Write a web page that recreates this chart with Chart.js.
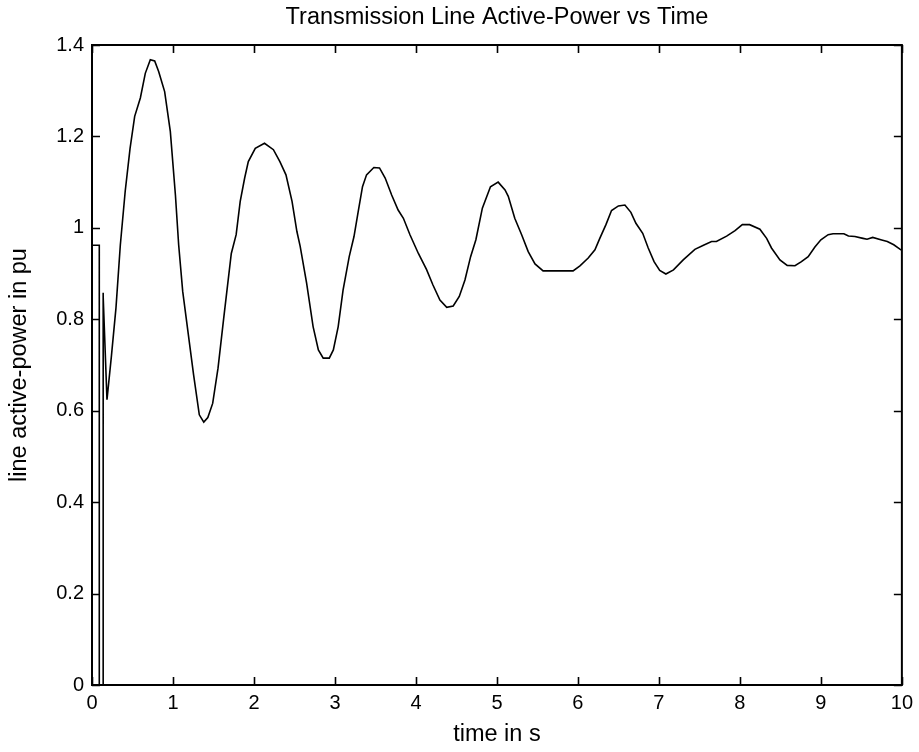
<!DOCTYPE html>
<html>
<head>
<meta charset="utf-8">
<script src="https://cdn.jsdelivr.net/npm/chart.js@4/dist/chart.umd.min.js"></script>
<style>
  html, body { margin: 0; padding: 0; background: #ffffff; }
  #wrap { width: 919px; height: 752px; }
</style>
</head>
<body>
<div id="wrap"><canvas id="c" width="919" height="752"></canvas></div>
<script>
// ---- data ----
const chartTitle = 'Transmission Line Active-Power vs Time';
const xTitle = 'time in s';
const yTitle = 'line active-power in pu';

const xTickLabels = ['0','1','2','3','4','5','6','7','8','9','10'];
const yTickLabels = ['0','0.2','0.4','0.6','0.8','1','1.2','1.4'];

const timeS = [
  0, 0.09, 0.09, 0.136, 0.136, 0.14, 0.185, 0.24, 0.296, 0.35, 0.41, 0.47, 0.527, 0.597, 0.658,
  0.72, 0.774, 0.823, 0.897, 0.967, 1.03, 1.07, 1.12, 1.19, 1.255, 1.325, 1.38, 1.43, 1.49,
  1.556, 1.626, 1.72, 1.78, 1.83, 1.885, 1.93, 2.016, 2.13, 2.24, 2.32, 2.395, 2.47, 2.53,
  2.57, 2.65, 2.73, 2.795, 2.855, 2.93, 2.98, 3.04, 3.1, 3.176, 3.235, 3.29, 3.34, 3.39,
  3.48, 3.55, 3.62, 3.7, 3.78, 3.845, 3.926, 4.03, 4.13, 4.21, 4.296, 4.38, 4.46, 4.535,
  4.605, 4.675, 4.74, 4.82, 4.92, 5.015, 5.1, 5.14, 5.22, 5.305, 5.386, 5.47, 5.57, 5.94,
  6.025, 6.127, 6.21, 6.27, 6.346, 6.415, 6.5, 6.58, 6.654, 6.716, 6.8, 6.868, 6.94, 7.01,
  7.086, 7.18, 7.3, 7.444, 7.55, 7.65, 7.71, 7.836, 7.94, 8.03, 8.12, 8.247, 8.33, 8.39,
  8.494, 8.584, 8.68, 8.76, 8.843, 8.926, 9.0, 9.09, 9.15, 9.284, 9.34, 9.42, 9.52, 9.57,
  9.64, 9.74, 9.82, 9.9, 9.98, 10
];
const powerPu = [
  0.962, 0.962, 0, 0, 0.858, 0.85, 0.624, 0.72, 0.825, 0.963, 1.08, 1.174, 1.244, 1.284, 1.338,
  1.368, 1.365, 1.342, 1.298, 1.211, 1.072, 0.963, 0.861, 0.766, 0.678, 0.591, 0.575, 0.585, 0.616,
  0.693, 0.802, 0.944, 0.985, 1.058, 1.109, 1.145, 1.174, 1.185, 1.171, 1.145, 1.116, 1.058, 0.992,
  0.96, 0.879, 0.784, 0.733, 0.715, 0.715, 0.733, 0.784, 0.864, 0.937, 0.981, 1.039, 1.09, 1.116,
  1.132, 1.131, 1.109, 1.072, 1.039, 1.021, 0.985, 0.944, 0.909, 0.875, 0.842, 0.826, 0.829, 0.85,
  0.886, 0.937, 0.974, 1.043, 1.09, 1.1, 1.083, 1.069, 1.021, 0.985, 0.948, 0.921, 0.906, 0.906,
  0.917, 0.934, 0.952, 0.977, 1.007, 1.038, 1.048, 1.05, 1.034, 1.01, 0.988, 0.956, 0.926, 0.907,
  0.899, 0.908, 0.93, 0.953, 0.962, 0.97, 0.97, 0.982, 0.994, 1.007, 1.007, 0.997, 0.977, 0.956,
  0.93, 0.918, 0.917, 0.926, 0.937, 0.958, 0.974, 0.985, 0.987, 0.987, 0.982, 0.981, 0.977, 0.975,
  0.979, 0.974, 0.97, 0.963, 0.953, 0.951
];

// ---- chart ----
const FONT = '"Liberation Sans", Arial, Helvetica, sans-serif';
const FS = 20;      // tick labels
const TFS = 23.5;   // titles

const matlabFrame = {
  id: 'matlabFrame',
  afterLayout(chart) {
    // centre the title over the plot box, as MATLAB does
    const tb = chart.titleBlock;
    if (tb) { tb.left = chart.chartArea.left; tb.right = chart.chartArea.right; }
  },
  afterDatasetsDraw(chart) {
    const {ctx, chartArea: a, scales} = chart;
    const len = 8;
    ctx.save();
    ctx.strokeStyle = '#000';
    ctx.lineWidth = 1.6;
    ctx.beginPath();
    scales.x.ticks.forEach(t => {
      const px = Math.round(scales.x.getPixelForValue(t.value)) + 0.5;
      ctx.moveTo(px, a.bottom); ctx.lineTo(px, a.bottom - len);
      ctx.moveTo(px, a.top); ctx.lineTo(px, a.top + len);
    });
    scales.y.ticks.forEach(t => {
      const py = Math.round(scales.y.getPixelForValue(t.value)) + 0.5;
      ctx.moveTo(a.left, py); ctx.lineTo(a.left + len, py);
      ctx.moveTo(a.right, py); ctx.lineTo(a.right - len, py);
    });
    ctx.stroke();
    ctx.lineWidth = 2;
    ctx.strokeRect(a.left, a.top, a.right - a.left, a.bottom - a.top);
    ctx.restore();
  }
};

new Chart(document.getElementById('c'), {
  type: 'line',
  data: {
    datasets: [{
      data: timeS.map((t, i) => ({x: t, y: powerPu[i]})),
      borderColor: '#000',
      borderWidth: 1.6,
      pointRadius: 0,
      tension: 0,
      fill: false
    }]
  },
  options: {
    responsive: false,
    animation: false,
    devicePixelRatio: 1,
    layout: { padding: { left: 0, right: 17, top: 0, bottom: 0 } },
    plugins: {
      legend: { display: false },
      tooltip: { enabled: false },
      title: {
        display: true,
        text: chartTitle,
        color: '#000',
        font: { family: FONT, size: TFS, weight: 'normal', lineHeight: 1.2 },
        padding: { top: 3, bottom: 45 - 3 - TFS * 1.2 }
      }
    },
    scales: {
      x: {
        type: 'linear',
        min: 0, max: 10,
        afterFit(s) { s.height = 67; },
        grid: { display: false, drawTicks: false },
        border: { display: false },
        ticks: {
          stepSize: 1,
          padding: 6,
          color: '#000',
          font: { family: FONT, size: FS },
          maxRotation: 0,
          autoSkip: false,
          callback: (v, i) => xTickLabels[i]
        },
        title: {
          display: true,
          text: xTitle,
          color: '#000',
          font: { family: FONT, size: TFS, lineHeight: 1.2 },
          padding: { top: 0, bottom: 752 - 735 - TFS * 0.6 }
        }
      },
      y: {
        min: 0, max: 1.4,
        afterFit(s) { s.width = 92; },
        grid: { display: false, drawTicks: false },
        border: { display: false },
        ticks: {
          stepSize: 0.2,
          padding: 8,
          color: '#000',
          font: { family: FONT, size: FS },
          autoSkip: false,
          callback: (v, i) => yTickLabels[i]
        },
        title: {
          display: true,
          text: yTitle,
          color: '#000',
          font: { family: FONT, size: TFS, lineHeight: 1.2 },
          padding: { top: 20 - TFS * 0.6, bottom: 0 }
        }
      }
    }
  },
  plugins: [matlabFrame]
});
</script>
</body>
</html>
